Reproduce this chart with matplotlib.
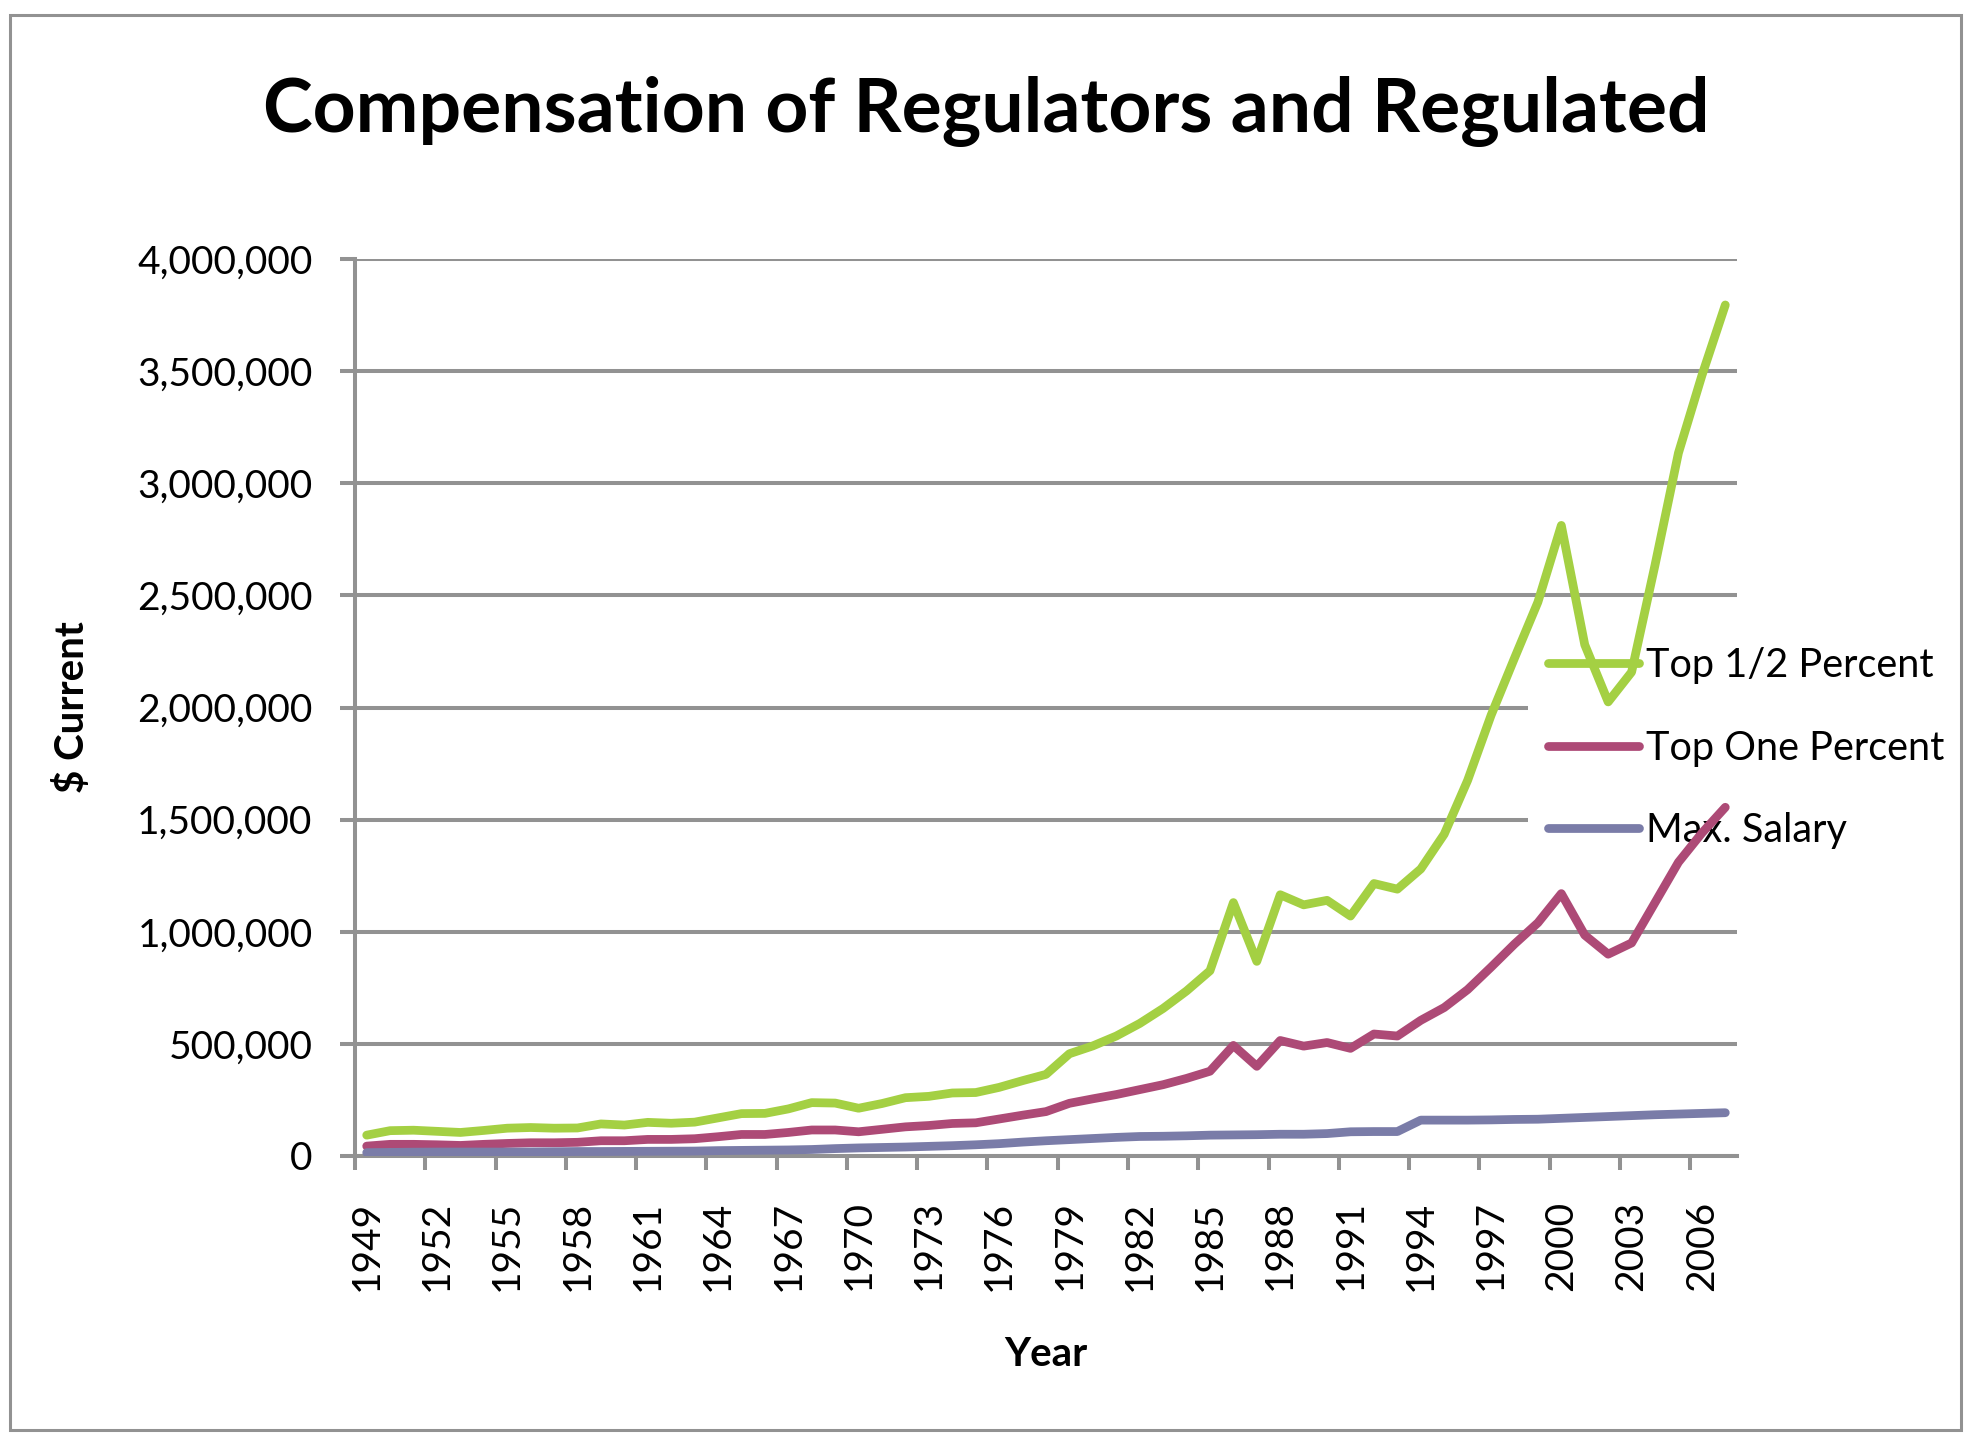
import matplotlib
matplotlib.use("Agg")
import matplotlib.pyplot as plt
from matplotlib.patches import Rectangle
from matplotlib.ticker import FuncFormatter

plt.rcParams['font.family'] = ['Lato', 'DejaVu Sans']

# data
years = list(range(1949, 2008))

top_half_pct = [
    93000, 113000, 115000, 110000, 105000, 114000, 124000, 127000, 124000, 125000,
    143000, 138000, 150000, 146000, 151000, 170000, 189000, 190000, 210000, 238000,
    236000, 213000, 234000, 260000, 266000, 281000, 283000, 306000, 336000, 364000,
    456000, 491000, 535000, 591000, 658000, 736000, 826000, 1130000, 868000, 1165000,
    1120000, 1140000, 1070000, 1215000, 1190000, 1280000, 1435000, 1675000, 1965000, 2220000,
    2470000, 2812000, 2280000, 2025000, 2158000, 2635000, 3135000, 3480000, 3795000,
]

top_one_pct = [
    44000, 52000, 52000, 50000, 47000, 52000, 56000, 59000, 59000, 61000,
    68000, 68000, 74000, 74000, 77000, 86000, 96000, 96000, 105000, 116000,
    116000, 108000, 119000, 130000, 136000, 145000, 148000, 165000, 182000, 198000,
    235000, 255000, 274000, 296000, 318000, 346000, 378000, 493000, 400000, 515000,
    490000, 506000, 480000, 544000, 535000, 605000, 662000, 742000, 842000, 945000,
    1040000, 1170000, 985000, 900000, 950000, 1130000, 1310000, 1440000, 1555000,
]

max_salary = [
    15000, 16000, 17000, 17500, 17500, 17500, 17500, 18000, 19000, 20000,
    20000, 20500, 21000, 21500, 22000, 24000, 25000, 26000, 27000, 29000,
    33000, 36000, 38000, 40000, 43000, 46000, 50000, 55000, 62000, 68000,
    73000, 78000, 83000, 87000, 88000, 90000, 93000, 94000, 95000, 97000,
    97000, 100000, 108000, 109000, 109000, 160000, 160000, 160000, 161000, 163000,
    164000, 168000, 172000, 176000, 180000, 184000, 187000, 190000, 193000,
]

series_names = ['Top 1/2 Percent', 'Top One Percent', 'Max. Salary']
series_colors = ['#a4d043', '#ad4a76', '#7a7ca8']

W, H = 1973, 1434
grey = '#929292'

fig = plt.figure(figsize=(W / 100, H / 100), dpi=100)
ax = fig.add_axes([355 / W, (H - 1156) / H, 1382 / W, 897 / H])

# outer chart frame
fig.patches.append(Rectangle((10 / W, 4 / H), 1951 / W, 1415 / H,
                             transform=fig.transFigure, fill=False,
                             edgecolor=grey, linewidth=2.2))

x = list(range(len(years)))
for vals, name, col in zip([top_half_pct, top_one_pct, max_salary], series_names, series_colors):
    ax.plot(x, vals, color=col, linewidth=6.3, label=name,
            solid_capstyle='round', solid_joinstyle='round', zorder=3)

ax.set_xlim(-0.5, len(years) - 0.5)
ax.set_ylim(0, 4000000)

# gridlines
ax.set_axisbelow(True)
ax.yaxis.grid(True, color=grey, linewidth=2.9)
ax.xaxis.grid(False)

for s in ['top', 'right']:
    ax.spines[s].set_visible(False)
for s in ['left', 'bottom']:
    ax.spines[s].set_color(grey)
    ax.spines[s].set_linewidth(2.9)

# y axis
ax.set_yticks(range(0, 4000001, 500000))
ax.yaxis.set_major_formatter(FuncFormatter(lambda v, p: f'{int(v):,}'))
ax.tick_params(axis='y', direction='out', length=10.5, width=2.9, color=grey,
               labelsize=28, pad=20)

# x axis: tick marks between categories, labels every third year
ax.set_xticks([k - 0.5 for k in range(0, len(years), 3)])
ax.set_xticklabels([])
ax.set_xticks(list(range(0, len(years), 3)), minor=True)
ax.set_xticklabels([str(y) for y in years[::3]], minor=True, rotation=90)
ax.tick_params(axis='x', which='major', direction='out', length=10, width=2.9, color=grey)
ax.tick_params(axis='x', which='minor', length=0, labelsize=28, pad=32)

# axis titles
ax.set_xlabel('Year', fontsize=29, fontweight='bold')
ax.xaxis.label.set_va('center')
ax.xaxis.set_label_coords(0.5, (1156 - 1355) / 897)
ax.set_ylabel('$ Current', fontsize=29, fontweight='bold')
ax.yaxis.label.set_va('center')
ax.yaxis.set_label_coords((72 - 355) / 1382, 0.5)

fig.text(986 / W, (H - 132) / H, 'Compensation of Regulators and Regulated',
         ha='center', va='baseline', fontsize=54, fontweight='bold')

# white area behind legend hides gridlines, data lines stay on top
ax.add_patch(Rectangle((1528 / W, (H - 872) / H), 430 / W, 245 / H,
                       transform=fig.transFigure, facecolor='white',
                       edgecolor='none', clip_on=False, zorder=1))

leg = ax.legend(loc='center left', bbox_to_anchor=(1548 / W, (H - 748) / H),
                bbox_transform=fig.transFigure, frameon=False, fontsize=28.5,
                handlelength=2.3, handletextpad=0.18, labelspacing=1.15,
                borderpad=0, borderaxespad=0)
leg.set_zorder(2)

fig.savefig('out.png', dpi=100)
